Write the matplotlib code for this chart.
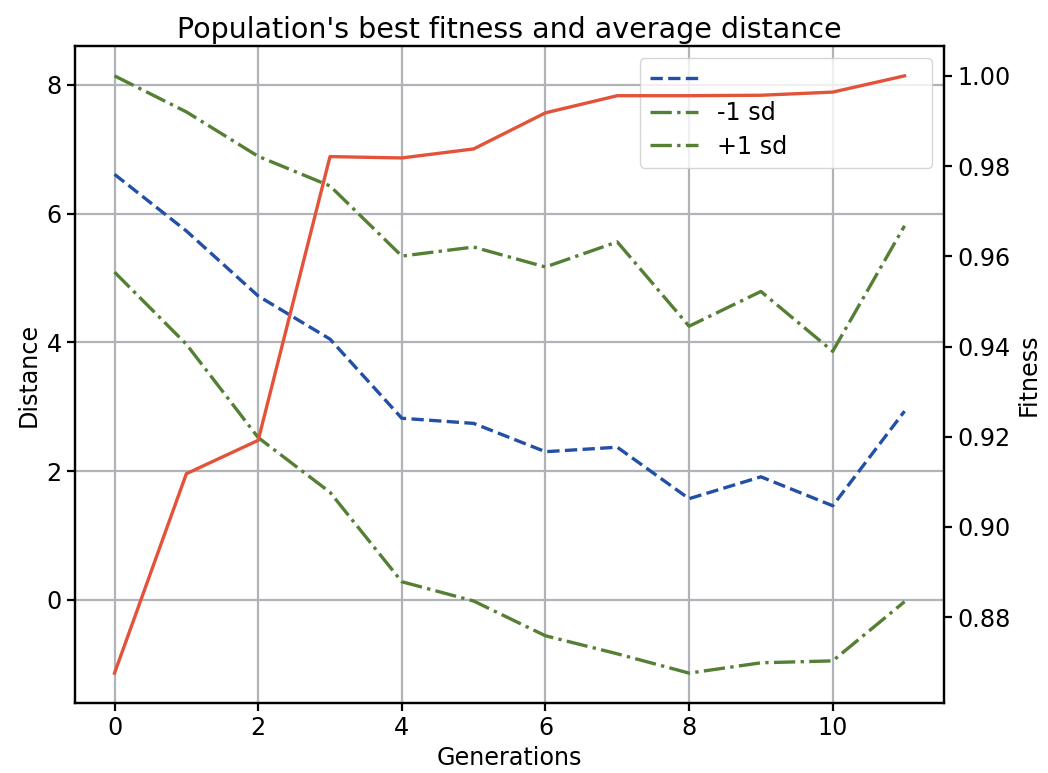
import numpy as np
import matplotlib
matplotlib.use("Agg")
import matplotlib.pyplot as plt

# data
generations = np.arange(12)
mean_dist = [6.61, 5.73, 4.72, 4.05, 2.82, 2.74, 2.30, 2.37, 1.57, 1.91, 1.46, 2.93]
upper_dist = [8.14, 7.58, 6.89, 6.43, 5.34, 5.48, 5.17, 5.56, 4.25, 4.79, 3.86, 5.81]
lower_dist = [5.09, 3.97, 2.52, 1.67, 0.28, -0.02, -0.56, -0.84, -1.14, -0.98, -0.95, -0.03]
best_fitness = [0.8676, 0.9118, 0.9192, 0.9821, 0.9818, 0.9838, 0.9918,
                0.9956, 0.9956, 0.9957, 0.9964, 1.0]
legend_labels = [" " * 27, "-1 sd", "+1 sd"]

plt.rcParams["font.family"] = ["DejaVu Sans"]
fs = 17.2

fig = plt.figure(figsize=(10.48, 7.73), dpi=100)
ax = fig.add_axes([0.0716, 0.0906, 0.8292, 0.8499])

l_mean, = ax.plot(generations, mean_dist, color="#2150a6", ls="--", lw=2.4)
l_lo, = ax.plot(generations, lower_dist, color="#557f35", ls="-.", lw=2.4)
l_hi, = ax.plot(generations, upper_dist, color="#557f35", ls="-.", lw=2.4)
ax.grid(True, color="#b0b4b8", lw=1.6)
ax.set_xlabel("Generations", fontsize=fs)
ax.set_ylabel("Distance", fontsize=fs)
ax.tick_params(labelsize=fs, width=1.6, length=6)
ax.set_title("Population's best fitness and average distance", fontsize=20.5)
leg = ax.legend([l_mean, l_lo, l_hi], legend_labels, loc="upper right",
                fontsize=fs, handlelength=2.0, labelspacing=0.4)

ax2 = ax.twinx()
ax2.plot(generations, best_fitness, color="#e2533a", lw=2.4)
ax2.set_ylabel("Fitness", fontsize=fs)
ax2.tick_params(labelsize=fs, width=1.6, length=6)

for a in (ax, ax2):
    for s in a.spines.values():
        s.set_linewidth(1.6)

fig.savefig("out.png", dpi=100)
